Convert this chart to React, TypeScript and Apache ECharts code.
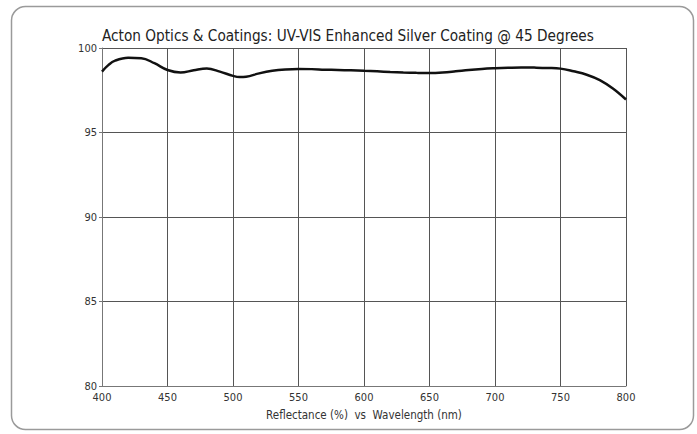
import React, { useEffect, useRef } from "react";
import * as echarts from "echarts";

const wavelengths = [400, 405, 410, 420, 430, 440, 450, 460, 470, 480, 490, 500, 505, 510, 520, 530, 540, 550, 560, 570, 580, 590, 600, 610, 620, 630, 640, 650, 660, 670, 680, 690, 700, 710, 720, 730, 740, 750, 760, 770, 780, 790, 800];
const reflectance = [98.6, 99.0, 99.25, 99.42, 99.4, 99.1, 98.7, 98.55, 98.68, 98.78, 98.6, 98.35, 98.28, 98.3, 98.5, 98.65, 98.73, 98.76, 98.75, 98.72, 98.7, 98.68, 98.65, 98.62, 98.58, 98.55, 98.53, 98.52, 98.55, 98.62, 98.7, 98.76, 98.8, 98.83, 98.85, 98.84, 98.82, 98.78, 98.62, 98.42, 98.1, 97.6, 96.95];
const titleText = "Acton Optics & Coatings: UV-VIS Enhanced Silver Coating @ 45 Degrees";
const xAxisName = "Reflectance (%)  vs  Wavelength (nm)";

export default function App() {
  const ref = useRef<HTMLDivElement>(null);
  useEffect(() => {
    if (!ref.current) return;
    const chart = echarts.init(ref.current, null, { renderer: "svg" });
    const font = "DejaVu Sans Condensed";
    chart.setOption({
      animation: false,
      backgroundColor: "#ffffff",
      title: {
        text: titleText,
        left: 102,
        top: 28,
        padding: 0,
        textStyle: { fontFamily: font, fontSize: 15.2, fontWeight: "normal", color: "#222" },
      },
      graphic: [
        {
          type: "rect",
          shape: { x: 11.5, y: 6.5, width: 682, height: 423, r: 14 },
          style: { fill: "none", stroke: "#9a9a9a", lineWidth: 1.5 },
        },
      ],
      grid: { left: 102, right: 71, top: 48, bottom: 48 },
      xAxis: {
        type: "value",
        min: 400,
        max: 800,
        interval: 50,
        name: xAxisName,
        nameLocation: "middle",
        nameGap: 23,
        nameTextStyle: { fontFamily: font, fontSize: 11.5, color: "#333" },
        axisLine: { show: true, lineStyle: { color: "#777", width: 1 } },
        axisTick: { show: false },
        axisLabel: { fontFamily: font, fontSize: 11, color: "#333", margin: 6 },
        splitLine: { show: true, lineStyle: { color: "#555", width: 1 } },
      },
      yAxis: {
        type: "value",
        min: 80,
        max: 100,
        interval: 5,
        axisLine: { show: true, lineStyle: { color: "#777", width: 1 } },
        axisTick: { show: true, length: 3, lineStyle: { color: "#777" } },
        axisLabel: { fontFamily: font, fontSize: 11, color: "#333", margin: 5 },
        splitLine: { show: true, lineStyle: { color: "#555", width: 1 } },
      },
      series: [
        {
          type: "line",
          data: wavelengths.map((w, i) => [w, reflectance[i]]),
          smooth: 0.4,
          showSymbol: false,
          lineStyle: { color: "#111", width: 2.5 },
        },
      ],
    });
    return () => chart.dispose();
  }, []);
  return (
    <div
      ref={ref}
      style={{ position: "fixed", left: 0, top: 0, width: 697, height: 434, background: "#fff" }}
    />
  );
}
